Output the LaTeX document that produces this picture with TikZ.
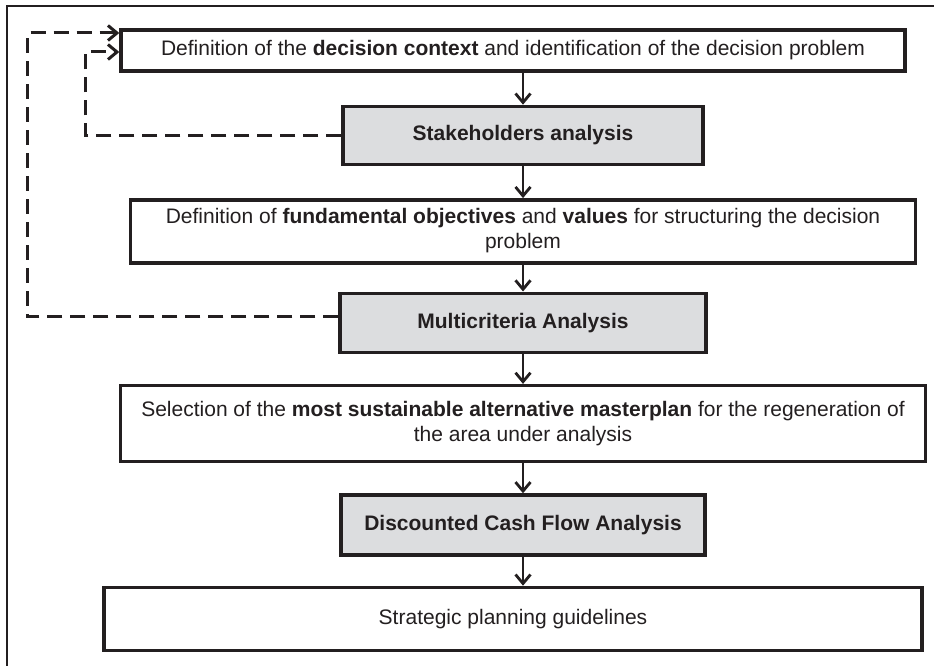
\documentclass[tikz,border=0pt]{standalone}
\usepackage{fontspec}
\setmainfont{Liberation Sans}
\usetikzlibrary{matrix,arrows.meta}
\definecolor{ink}{RGB}{35,31,32}
\definecolor{boxgray}{RGB}{220,221,223}
\newcommand{\boxfont}{\fontsize{21}{25}\selectfont}
\tikzset{
  plainbox/.style={draw=ink,line width=3.4pt,fill=white,text=ink,font=\boxfont,inner sep=0pt},
  greybox/.style={plainbox,fill=boxgray,font=\boxfont\bfseries},
  flow/.style={draw=ink,line width=2.8pt,-{Straight Barb[length=9pt,width=15pt]}},
  feedback/.style={flow,line width=3pt,dash pattern=on 15pt off 8pt},
  frame/.style={draw=ink,line width=2.4pt}
}

\begin{document}
\begin{tikzpicture}[x=1pt,y=1pt]
            \useasboundingbox (0,0) rectangle (934,-666);
            \draw[frame] (7,-666) |- (934,-6);

            \matrix (m) [matrix of nodes,nodes={plainbox},row sep=27pt,
                         matrix anchor=m-1-1.center] at (513,-50.5)
            {
 |[xshift=-10pt,minimum width=784pt,minimum height=41pt]| Definition of the \textbf{decision context} and identification of the decision problem \\[5pt]
 |[greybox,minimum width=360pt,minimum height=58pt]| Stakeholders analysis \\[5pt]
 |[minimum width=785pt,minimum height=63pt]| \begin{tabular}{@{}c@{}}Definition of \textbf{fundamental objectives} and \textbf{values} for structuring the decision\\ problem\end{tabular} \\
 |[greybox,minimum width=366pt,minimum height=59pt]| Multicriteria Analysis \\[3pt]
 |[minimum width=805pt,minimum height=76pt]| \begin{tabular}{@{}c@{}}Selection of the \textbf{most sustainable alternative masterplan} for the regeneration of\\ the area under analysis\end{tabular} \\[3pt]
 |[greybox,minimum width=364pt,minimum height=60pt]| Discounted Cash Flow Analysis \\[2pt]
 |[xshift=-10pt,minimum width=818pt,minimum height=63pt]| Strategic planning guidelines \\
            };

            \foreach \a/\b in {1/2,2/3,3/4,4/5,5/6,6/7}
                \draw[flow] (m-\a-1.south -| m-2-1.center) -- (m-\b-1.north -| m-2-1.center);

            % Feedback
            \draw[feedback] ([yshift=6pt]m-4-1.west) -- ++(-311,0) |- ([yshift=17.5pt]m-1-1.west);
            \draw[feedback] (m-2-1.west) -- ++(-256,0) |- ([yshift=-1.5pt]m-1-1.west);
\end{tikzpicture}
\end{document}
